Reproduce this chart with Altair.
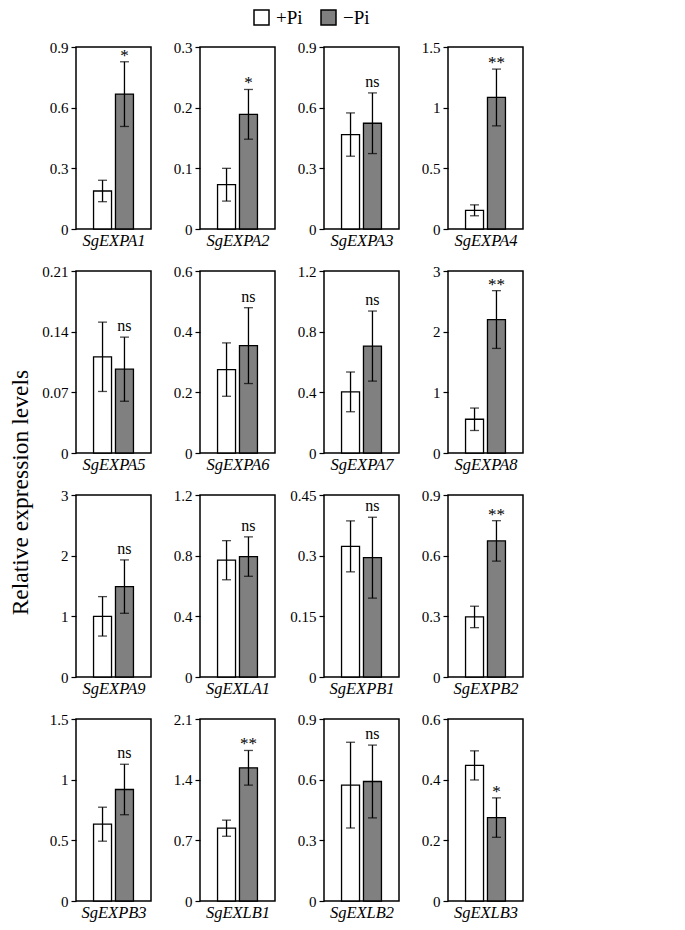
import altair as alt
import pandas as pd

genes = ["SgEXPA1", "SgEXPA2", "SgEXPA3", "SgEXPA4",
         "SgEXPA5", "SgEXPA6", "SgEXPA7", "SgEXPA8",
         "SgEXPA9", "SgEXLA1", "SgEXPB1", "SgEXPB2",
         "SgEXPB3", "SgEXLB1", "SgEXLB2", "SgEXLB3"]
plus_mean = [0.188, 0.073, 0.467, 0.154,
             0.111, 0.275, 0.403, 0.556,
             1.00, 0.77, 0.323, 0.297,
             0.633, 0.84, 0.573, 0.447]
plus_err = [0.053, 0.027, 0.107, 0.045,
            0.040, 0.088, 0.131, 0.185,
            0.325, 0.129, 0.063, 0.053,
            0.14, 0.093, 0.212, 0.048]
minus_mean = [0.667, 0.189, 0.523, 1.084,
              0.0967, 0.354, 0.705, 2.20,
              1.49, 0.794, 0.295, 0.673,
              0.919, 1.537, 0.591, 0.275]
minus_err = [0.16, 0.041, 0.15, 0.234,
             0.037, 0.125, 0.231, 0.476,
             0.44, 0.13, 0.10, 0.10,
             0.208, 0.2, 0.18, 0.065]
sig = ["*", "*", "ns", "**",
       "ns", "ns", "ns", "**",
       "ns", "ns", "ns", "**",
       "ns", "**", "ns", "*"]
y_max = [0.9, 0.3, 0.9, 1.5,
         0.21, 0.6, 1.2, 3,
         3, 1.2, 0.45, 0.9,
         1.5, 2.1, 0.9, 0.6]
conds = ["+Pi", "\u2212Pi"]
fills = ["#ffffff", "#808080"]

FONT = "Liberation Serif"


def panel(i):
    df = pd.DataFrame({
        "cond": conds,
        "mean": [plus_mean[i], minus_mean[i]],
        "lo": [plus_mean[i] - plus_err[i], minus_mean[i] - minus_err[i]],
        "hi": [plus_mean[i] + plus_err[i], minus_mean[i] + minus_err[i]],
        "sig": ["", sig[i]],
    })
    ticks = [round(y_max[i] * k / 3, 6) for k in range(4)]
    xs = alt.Scale(domain=conds, paddingInner=0.18, paddingOuter=0.8)
    xax = alt.Axis(labels=False, ticks=False, domain=False,
                   titleFontStyle="italic", titleFont=FONT,
                   titleFontSize=16.5, titleFontWeight="normal",
                   titleColor="black", titlePadding=3)

    def xe():
        return alt.X("cond:N", scale=xs, title=genes[i], axis=xax)

    ys = alt.Scale(domain=[0, y_max[i]], nice=False, zero=True)
    yax = alt.Axis(values=ticks, labelExpr="format(datum.value, '.4~g')",
                   grid=False, domain=False,
                   labelFont=FONT, labelFontSize=15, labelColor="black",
                   tickColor="black", tickSize=5, tickWidth=1.2, labelPadding=3)

    def ye(f):
        return alt.Y(f, scale=ys, axis=yax, title=None)

    base = alt.Chart(df)
    bars = base.mark_bar(stroke="black", strokeWidth=1.3).encode(
        x=xe(),
        y=ye("mean:Q"),
        fill=alt.Fill("cond:N", scale=alt.Scale(domain=conds, range=fills),
                      legend=alt.Legend(orient="none", legendX=176, legendY=-39,
                                        direction="horizontal", title=None,
                                        symbolType="square", symbolSize=225,
                                        symbolStrokeColor="black", symbolStrokeWidth=1.5,
                                        labelFont=FONT, labelFontSize=19, labelColor="black",
                                        columnPadding=15, labelOffset=5)),
    )
    rule = base.mark_rule(color="black", strokeWidth=1.3).encode(
        x=xe(), y=ye("lo:Q"), y2="hi:Q")
    tlo = base.mark_tick(color="black", size=9, thickness=1.3).encode(
        x=xe(), y=ye("lo:Q"))
    thi = base.mark_tick(color="black", size=9, thickness=1.3).encode(
        x=xe(), y=ye("hi:Q"))
    tns = base.transform_filter(alt.datum.sig == "ns").mark_text(
        font=FONT, fontSize=16, dy=-6, baseline="alphabetic", color="black").encode(
        x=xe(), y=ye("hi:Q"), text="sig:N")
    tst = base.transform_filter(alt.datum.sig != "ns").mark_text(
        font=FONT, fontSize=17, dy=-1, baseline="alphabetic", color="black").encode(
        x=xe(), y=ye("hi:Q"), text="sig:N")
    return alt.layer(bars, rule, tlo, thi, tns, tst).properties(width=75, height=182)


chart = alt.concat(*[panel(i) for i in range(16)], columns=4,
                   spacing={"row": 42, "column": 49}, bounds="flush").properties(
    title=alt.TitleParams("Relative expression levels", orient="left", anchor="middle",
                          font=FONT, fontSize=23.5, fontWeight="normal", color="black",
                          offset=9, dx=-28),
    padding={"left": 0, "top": 0, "right": 5, "bottom": 5},
    background="white",
).configure_view(stroke="black", strokeWidth=1.5)

chart.save("out.html", embed_options={"renderer": "svg", "actions": False})
